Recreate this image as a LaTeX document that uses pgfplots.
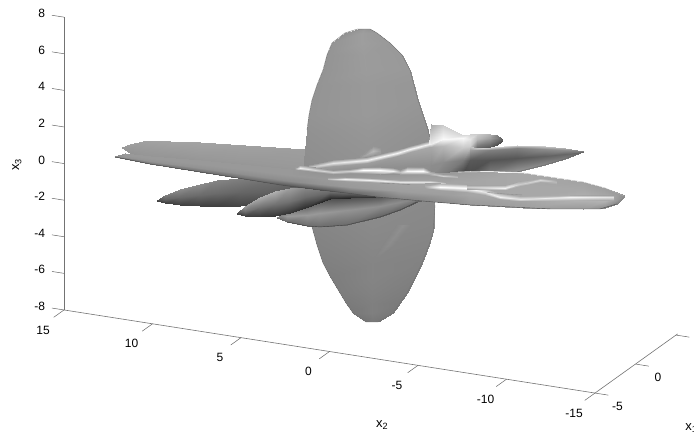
\documentclass[border=0pt]{standalone}
\usepackage{fontspec}
\setmainfont{Liberation Sans}
\usepackage{pgfplots}
\pgfplotsset{compat=1.18}
\pgfplotsset{
  table/x expr={(\thisrow{px}-64)/17.7-15},
  table/y expr={-5},
  table/z expr={(310+(\thisrow{px}-64)*0.1565-\thisrow{py})/18.3-8},
  shp/.style={surf,shader=interp,point meta=explicit,forget plot},
  edge/.style={no marks,color=black!55,line width=0.4pt,forget plot},
  tk/.style={no marks,color=black!60,line width=0.5pt,forget plot},
}
\begin{document}
\begin{tikzpicture}
\begin{axis}[
  anchor=origin, at={(370pt,263.9pt)},
  x={(17.7pt,-2.77pt)}, y={(8.1pt,5.8pt)}, z={(0pt,18.3pt)},
  xmin=-15,xmax=15,ymin=-5,ymax=5.2,zmin=-8,zmax=8,
  axis x line*=left, axis z line*=left, hide y axis,
  clip=false,
  xtick={-15,-10,-5,0,5,10,15}, xticklabels={15,10,5,0,-5,-10,-15},
  ztick={-8,-6,-4,-2,0,2,4,6,8}, zticklabels={-8,-6,-4,-2,0,2,4,6,8},
  tick label style={font=\fontsize{12}{12}\selectfont},
  x tick label style={anchor=center,xshift=-21pt,yshift=-20pt},
  z tick label style={anchor=east,xshift=-15.5pt,yshift=3.5pt},
  axis line style={black!55,line width=0.6pt,-},
  major tick length=0pt,
  colormap={g}{gray(0cm)=(0); gray(1cm)=(1)},
  point meta min=0, point meta max=1,
  xlabel={x\textsubscript{2}}, zlabel={x\textsubscript{3}},
  label style={font=\fontsize{13}{13}\selectfont},
  xlabel style={at={(axis cs:2.97,-5,-11.55)},anchor=center},
  zlabel style={at={(axis cs:-17.66,-5,-0.48)},anchor=center,rotate=0},
]
% tick marks, along the third direction of the box
\addplot3[tk] coordinates {(-15,-5,-8)(-15,-6.27,-8)};
\addplot3[tk] coordinates {(-10,-5,-8)(-10,-6.27,-8)};
\addplot3[tk] coordinates {(-5,-5,-8)(-5,-6.27,-8)};
\addplot3[tk] coordinates {(0,-5,-8)(0,-6.27,-8)};
\addplot3[tk] coordinates {(5,-5,-8)(5,-6.27,-8)};
\addplot3[tk] coordinates {(10,-5,-8)(10,-6.27,-8)};
\addplot3[tk] coordinates {(15,-5,-8)(15,-6.27,-8)};
\addplot3[tk] coordinates {(-15,-5,-8)(-15.68,-5,-8)};
\addplot3[tk] coordinates {(-15,-5,-6)(-15.68,-5,-6)};
\addplot3[tk] coordinates {(-15,-5,-4)(-15.68,-5,-4)};
\addplot3[tk] coordinates {(-15,-5,-2)(-15.68,-5,-2)};
\addplot3[tk] coordinates {(-15,-5,0)(-15.68,-5,0)};
\addplot3[tk] coordinates {(-15,-5,2)(-15.68,-5,2)};
\addplot3[tk] coordinates {(-15,-5,4)(-15.68,-5,4)};
\addplot3[tk] coordinates {(-15,-5,6)(-15.68,-5,6)};
\addplot3[tk] coordinates {(-15,-5,8)(-15.68,-5,8)};
\addplot3[tk] coordinates {(15,-5,-8)(15.75,-5,-8)};
\addplot3[tk] coordinates {(15,0,-8)(15.75,0,-8)};
\addplot3[tk] coordinates {(15,5,-8)(15.75,5,-8)};
% back wing
\addplot3[shp] table[meta=c] {
px py c
122 147 .6
122 147.5 .6
122 148 .6

130 144 .63
130 148 .6
130 153 .58

143 141 .63
143 150 .6
143 158 .58

170 141 .64
170 153 .6
170 165 .56

200 142 .64
200 157 .6
200 172 .55

245 145 .63
245 161 .6
245 178 .55

305 149 .62
305 168 .6
305 188 .55

330 152 .6
330 170 .6
330 190 .55
};
% vertical disc
\addplot3[shp] table[meta=c] {
px py c
358 29 .56
364 29 .6
370 29 .58

345 33 .57
362 33 .62
377 33 .6

332 43 .58
362 43 .62
390 43 .6

327 55 .58
364 55 .61
402 55 .6

323 70 .58
366 70 .61
410 70 .6

317 85 .58
366 85 .6
414 85 .59

312 100 .58
366 100 .6
418 100 .59

309 115 .58
367 115 .6
423 115 .58

307 130 .57
368 130 .59
428 130 .57

303 170 .55
368 170 .57
434 170 .55

312 227 .52
372 227 .54
434 227 .53

317 245 .51
372 245 .53
429 245 .52

323 263 .5
372 263 .52
422 263 .51

331 278 .49
372 278 .52
415 278 .5

340 293 .49
372 293 .51
407 293 .49

346 303 .48
372 303 .5
400 303 .48

353 313 .47
372 313 .5
393 313 .47

366 322 .45
372 322 .47
378 322 .45
};
% disc outline
\addplot3[edge] table {
px py
307 130
309 115
312 100
317 85
323 70
327 55
332 43
345 33
358 29
370 29
377 33
390 43
402 55
410 70
414 85
418 100
423 115
428 130
431 143
};
\addplot3[edge] table {
px py
312 227
317 245
323 263
331 278
340 293
346 303
353 313
366 322
378 322
393 313
400 303
407 293
415 278
422 263
429 245
433 233
435 205
};
% disc folds
\addplot3[shp] table[meta=c] {
px py c
396 225 .535
403 225 .565
410 225 .535

382 245 .525
388 245 .55
394 245 .525

374 258 .52
377 258 .52
380 258 .52
};
% faint light patch on the disc
\addplot3[shp] table[meta=c] {
px py c
360 156 .59
360 157 .59
360 158 .59

373 146 .59
373 151 .72
373 155 .6

380 148 .59
380 151 .62
380 154 .6
};
% ridge band
\addplot3[shp] table[meta=c] {
px py c
295 168 .6
295 169 .65
295 171 .6
295 173 .6
295 176 .6

333 160 .6
333 163 .9
333 166 .62
333 171 .56
333 176 .58

367 157 .6
367 160 .95
367 163 .62
367 169 .56
367 176 .58

397 150 .6
397 153 .97
397 156 .62
397 167 .56
397 176 .58

410 146 .6
410 149 .97
410 152 .64
410 166 .56
410 176 .58

429 141.5 .6
429 144.5 .95
429 147.5 .66
429 165 .56
429 176 .55

431 124 .66
431 144 .92
431 147.5 .66
431 165 .55
431 176 .54

443 125 .8
443 139 .98
443 146 .72
443 162 .55
443 175 .48

463 135 .85
463 138 .98
463 147 .8
463 160 .48
463 173 .27

470 134 .82
470 139 .9
470 146 .8
470 160 .35
470 172 .3
};
% right lobe D
\addplot3[shp] table[meta=c] {
px py c
470 146 .8
470 150 .62
470 160 .35
470 172 .3

490 147 .9
490 150 .5
490 160 .33
490 172 .48

517 145 .85
517 148 .5
517 158 .34
517 172 .6

545 146 .8
545 149 .55
545 156 .38
545 165 .55

565 148 .7
565 150 .55
565 154 .4
565 159 .5

583 151 .5
583 151.5 .5
583 152 .4
583 152.5 .4
};
\addplot3[edge,color=black!60] table {
px py
517 172
545 165
565 159
583 152
};
% small lobe E
\addplot3[shp] table[meta=c] {
px py c
470 134 .82
470 139 .9
470 146 .8

477 134 .8
477 139 .72
477 148 .4

490 134 .7
490 138 .62
490 147 .35

497 135 .5
497 138 .5
497 145 .3

502 139.5 .35
502 140 .35
502 141 .3
};
% lobe C
\addplot3[shp] table[meta=c] {
px py c
277 217 .5
277 217.5 .5
277 218 .4

287 211 .45
287 216 .6
287 222 .42

307 204 .35
307 215 .6
307 226 .42

320 198 .3
320 213 .6
320 227 .42

347 195 .25
347 210 .58
347 225 .42

380 195 .3
380 206 .56
380 217 .38

400 195 .42
400 202 .55
400 210 .38

417 195 .45
417 199 .5
417 202 .35

428 195 .5
428 197 .5
428 199 .5
};
% lobe A
\addplot3[shp] table[meta=c] {
px py c
157 200 .3
157 200.5 .3
157 201 .25

165 195 .5
165 199 .4
165 203 .25

180 189 .55
180 197 .42
180 205 .25

200 184 .55
200 195 .42
200 206 .25

217 180 .52
217 193 .42
217 206.5 .25

240 178 .5
240 192 .4
240 206 .27

270 179 .45
270 192 .38
270 205 .3

300 181 .4
300 195 .35
300 205 .3
};
% lobe B
\addplot3[shp] table[meta=c] {
px py c
237 213 .3
237 213.5 .3
237 214 .25

245 206 .62
245 211 .45
245 216 .25

260 197 .68
260 207 .45
260 217 .22

275 191 .7
275 204 .45
275 216 .22

290 188 .62
290 201 .45
290 213 .2

305 186 .55
305 197 .42
305 208 .18

330 186 .5
330 192 .42
330 199 .14

350 188 .45
350 193 .4
350 198 .15

375 192 .4
375 195 .35
375 197 .2
};
% front sheet
\addplot3[shp] table[meta=c] {
px py c
115 156.5 .55
115 156.8 .55
115 157.2 .55
115 157.5 .5

125 153 .6
125 155 .6
125 157 .58
125 159 .45

150 156 .6
150 158.5 .6
150 161 .58
150 164 .45

200 160 .6
200 164 .6
200 168 .57
200 172 .42

250 165 .6
250 170 .6
250 175 .56
250 180 .4

290 169 .6
290 175 .6
290 181 .55
290 186 .33

320 172 .58
320 178 .6
320 184 .58
320 190 .32

350 173 .58
350 180 .62
350 187 .6
350 193.5 .4

400 175 .6
400 182 .64
400 191 .62
400 199 .5

450 172 .6
450 183 .65
450 195 .62
450 203 .55

470 171 .62
470 182 .65
470 195 .65
470 205 .6

523 173 .66
523 185 .66
523 197 .66
523 208.5 .62

583 182 .64
583 190 .66
583 200 .7
583 209.5 .6

605 188 .62
605 193 .64
605 201 .7
605 208 .55

617 192 .6
617 195 .62
617 200 .6
617 204 .5

624 195.5 .55
624 196 .55
624 196.5 .55
624 197 .55
};
% bright streak b
\addplot3[shp] table[meta=c] {
px py c
295 166 .6
295 168 .62
295 170 .6

300 165.5 .6
300 168 .95
300 170.5 .6

315 167.5 .58
315 170 .85
315 172.5 .58

333 170 .58
333 172 .82
333 174 .6

350 169 .58
350 171 .82
350 173 .6

363 167.5 .58
363 170.5 1
363 173.5 .62

380 167 .6
380 170.5 1
380 174 .62

393 168.5 .6
393 171 .95
393 173.5 .62

400 170 .6
400 172 .75
400 174 .63

407 167.5 .6
407 171 .97
407 174.5 .63

423 167.5 .58
423 171 1
423 174.5 .63

430 171 .6
430 173 .72
430 175 .64

443 174.5 .6
443 176 .82
443 177.5 .64

457 175.5 .62
457 177 .72
457 178.5 .64
};
% bright streak c
\addplot3[shp] table[meta=c] {
px py c
328 177.5 .6
328 179 .72
328 180.5 .6

345 177.5 .62
345 179.5 .95
345 181.5 .62

370 178 .63
370 180 .95
370 182 .63

400 180 .64
400 182 .9
400 184 .63

430 180.5 .64
430 182.5 .88
430 184.5 .63

445 182.5 .64
445 184 .85
445 185.5 .63
};
% bright patch and lower streak e
\addplot3[shp] table[meta=c] {
px py c
425 183.5 .63
425 186 .68
425 188.5 .63

440 183.5 .64
440 187 1
440 190.5 .64

467 184.5 .64
467 188.5 1
467 192.5 .65

485 188 .65
485 192 .9
485 195.5 .65

500 193 .65
500 197 .95
500 199.5 .66

520 196 .66
520 199 .9
520 201 .68

570 195.5 .66
570 197.5 .95
570 200 .7

613 195.5 .62
613 197.5 .88
613 200 .66
};
% upward branch f
\addplot3[shp] table[meta=c] {
px py c
467 185 .64
467 187 .8
467 189 .64

505 185.5 .65
505 188 .95
505 190.5 .66

520 181.5 .65
520 184 .8
520 186.5 .66

540 178 .65
540 180 .85
540 182.5 .66

556 180 .65
556 182 .72
556 184 .66
};
\addplot3[edge,color=black!50,line width=0.35pt] table {
px py
380 183
410 184.5
};
\addplot3[edge,color=black!45,line width=0.35pt] table {
px py
487 192.5
505 194
522 195
};
\addplot3[edge,color=black!8,line width=0.7pt] table {
px py
458 172
490 171.5
525 173
};
\addplot3[edge,color=black!70] table {
px py
115 157
150 164
200 172
250 180
280 185
320 190
350 193.5
377 197
400 199
433 202
470 205
550 209
600 209
617 204
};
\addplot3[edge,color=black!30] table {
px py
523 173
583 182
605 188
624 196
};
\addplot3[edge,color=black!75] table {
px py
287 222
307 226
320 227
347 225
380 217
400 210
417 202
};
\end{axis}
% the x1 axis, on the far side of the x2 range
\begin{axis}[
  anchor=origin, at={(370pt,263.9pt)},
  x={(-17.7pt,2.77pt)}, y={(8.1pt,5.8pt)}, z={(0pt,18.3pt)},
  xmin=-15,xmax=15,ymin=-5,ymax=5.2,zmin=-8,zmax=8,
  axis y line*=left, hide x axis, hide z axis,
  clip=false,
  ytick={-5,0}, yticklabels={-5,0},
  tick label style={font=\fontsize{12}{12}\selectfont},
  y tick label style={anchor=center,xshift=22.5pt,yshift=-13pt},
  axis line style={black!55,line width=0.6pt,-},
  major tick length=0pt,
  ylabel={x\textsubscript{1}},
  label style={font=\fontsize{13}{13}\selectfont},
  ylabel style={at={(axis cs:-20.45,-5,-9.09)},anchor=center,rotate=0},
]
\addplot3[draw=none,forget plot] coordinates {(0,0,-8)};
\end{axis}
\pgfresetboundingbox
\useasboundingbox (0,0) rectangle (694pt,440pt);
\end{tikzpicture}
\end{document}
